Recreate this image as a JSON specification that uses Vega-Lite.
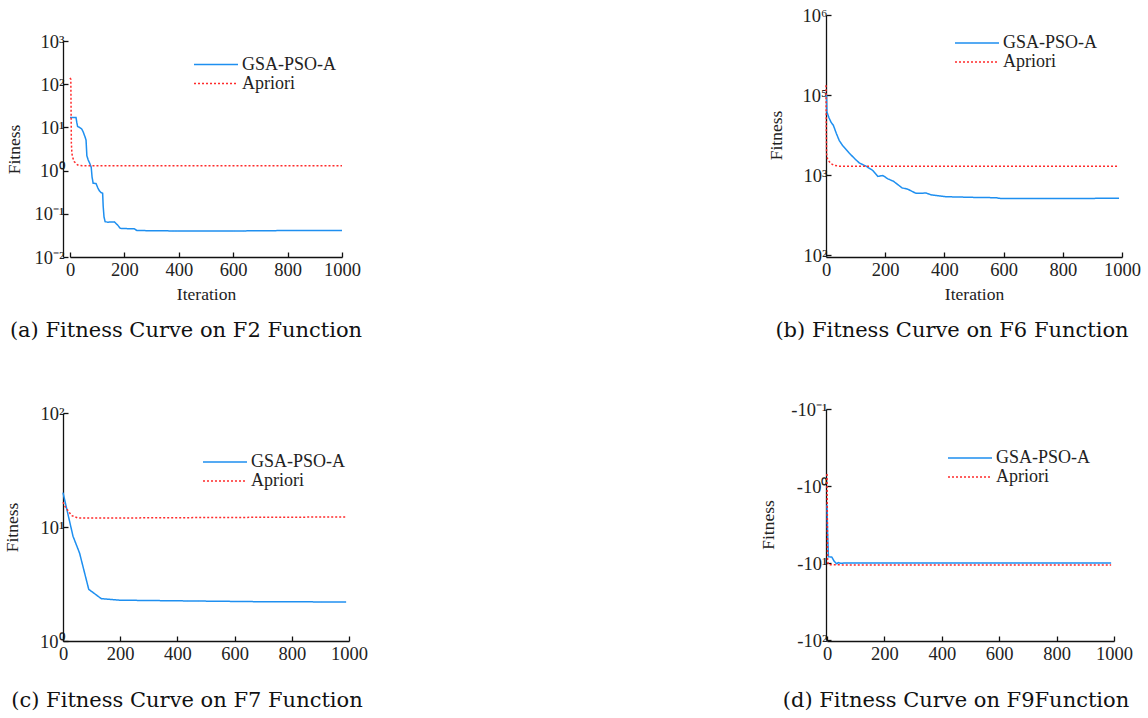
{
  "$schema": "https://vega.github.io/schema/vega-lite/v6.json",
  "padding": {"left": 3, "top": 6, "right": 5, "bottom": 5},
  "background": "white",
  "datasets": {
    "f2": [
      {"iter": 0, "fitness": 17, "series": "GSA-PSO-A"},
      {"iter": 22, "fitness": 17, "series": "GSA-PSO-A"},
      {"iter": 25, "fitness": 13, "series": "GSA-PSO-A"},
      {"iter": 28, "fitness": 10.5, "series": "GSA-PSO-A"},
      {"iter": 35, "fitness": 10, "series": "GSA-PSO-A"},
      {"iter": 43, "fitness": 9.2, "series": "GSA-PSO-A"},
      {"iter": 48, "fitness": 8, "series": "GSA-PSO-A"},
      {"iter": 55, "fitness": 6.1, "series": "GSA-PSO-A"},
      {"iter": 59, "fitness": 5.1, "series": "GSA-PSO-A"},
      {"iter": 62, "fitness": 2.2, "series": "GSA-PSO-A"},
      {"iter": 67, "fitness": 1.76, "series": "GSA-PSO-A"},
      {"iter": 72, "fitness": 1.5, "series": "GSA-PSO-A"},
      {"iter": 78, "fitness": 1.2, "series": "GSA-PSO-A"},
      {"iter": 81, "fitness": 0.72, "series": "GSA-PSO-A"},
      {"iter": 85, "fitness": 0.51, "series": "GSA-PSO-A"},
      {"iter": 96, "fitness": 0.5, "series": "GSA-PSO-A"},
      {"iter": 102, "fitness": 0.4, "series": "GSA-PSO-A"},
      {"iter": 108, "fitness": 0.34, "series": "GSA-PSO-A"},
      {"iter": 114, "fitness": 0.31, "series": "GSA-PSO-A"},
      {"iter": 120, "fitness": 0.3, "series": "GSA-PSO-A"},
      {"iter": 122, "fitness": 0.15, "series": "GSA-PSO-A"},
      {"iter": 125, "fitness": 0.085, "series": "GSA-PSO-A"},
      {"iter": 129, "fitness": 0.066, "series": "GSA-PSO-A"},
      {"iter": 138, "fitness": 0.064, "series": "GSA-PSO-A"},
      {"iter": 163, "fitness": 0.065, "series": "GSA-PSO-A"},
      {"iter": 175, "fitness": 0.055, "series": "GSA-PSO-A"},
      {"iter": 185, "fitness": 0.046, "series": "GSA-PSO-A"},
      {"iter": 224, "fitness": 0.045, "series": "GSA-PSO-A"},
      {"iter": 236, "fitness": 0.045, "series": "GSA-PSO-A"},
      {"iter": 246, "fitness": 0.041, "series": "GSA-PSO-A"},
      {"iter": 400, "fitness": 0.04, "series": "GSA-PSO-A"},
      {"iter": 600, "fitness": 0.04, "series": "GSA-PSO-A"},
      {"iter": 800, "fitness": 0.041, "series": "GSA-PSO-A"},
      {"iter": 1000, "fitness": 0.041, "series": "GSA-PSO-A"},
      {"iter": 0, "fitness": 140, "series": "Apriori"},
      {"iter": 3, "fitness": 130, "series": "Apriori"},
      {"iter": 4, "fitness": 25, "series": "Apriori"},
      {"iter": 5, "fitness": 4.3, "series": "Apriori"},
      {"iter": 7, "fitness": 2.5, "series": "Apriori"},
      {"iter": 10, "fitness": 2.0, "series": "Apriori"},
      {"iter": 16, "fitness": 1.6, "series": "Apriori"},
      {"iter": 28, "fitness": 1.35, "series": "Apriori"},
      {"iter": 45, "fitness": 1.3, "series": "Apriori"},
      {"iter": 200, "fitness": 1.3, "series": "Apriori"},
      {"iter": 600, "fitness": 1.3, "series": "Apriori"},
      {"iter": 1000, "fitness": 1.3, "series": "Apriori"}
    ],
    "f6": [
      {"iter": 0, "fitness": 10300, "series": "GSA-PSO-A"},
      {"iter": 2, "fitness": 9800, "series": "GSA-PSO-A"},
      {"iter": 3, "fitness": 6150, "series": "GSA-PSO-A"},
      {"iter": 10, "fitness": 5200, "series": "GSA-PSO-A"},
      {"iter": 17, "fitness": 4570, "series": "GSA-PSO-A"},
      {"iter": 25, "fitness": 4170, "series": "GSA-PSO-A"},
      {"iter": 35, "fitness": 3300, "series": "GSA-PSO-A"},
      {"iter": 45, "fitness": 2690, "series": "GSA-PSO-A"},
      {"iter": 56, "fitness": 2340, "series": "GSA-PSO-A"},
      {"iter": 79, "fitness": 1870, "series": "GSA-PSO-A"},
      {"iter": 100, "fitness": 1560, "series": "GSA-PSO-A"},
      {"iter": 113, "fitness": 1410, "series": "GSA-PSO-A"},
      {"iter": 135, "fitness": 1290, "series": "GSA-PSO-A"},
      {"iter": 158, "fitness": 1140, "series": "GSA-PSO-A"},
      {"iter": 175, "fitness": 960, "series": "GSA-PSO-A"},
      {"iter": 192, "fitness": 985, "series": "GSA-PSO-A"},
      {"iter": 209, "fitness": 895, "series": "GSA-PSO-A"},
      {"iter": 228, "fitness": 835, "series": "GSA-PSO-A"},
      {"iter": 257, "fitness": 690, "series": "GSA-PSO-A"},
      {"iter": 276, "fitness": 665, "series": "GSA-PSO-A"},
      {"iter": 304, "fitness": 590, "series": "GSA-PSO-A"},
      {"iter": 338, "fitness": 595, "series": "GSA-PSO-A"},
      {"iter": 355, "fitness": 565, "series": "GSA-PSO-A"},
      {"iter": 405, "fitness": 535, "series": "GSA-PSO-A"},
      {"iter": 500, "fitness": 525, "series": "GSA-PSO-A"},
      {"iter": 574, "fitness": 520, "series": "GSA-PSO-A"},
      {"iter": 591, "fitness": 507, "series": "GSA-PSO-A"},
      {"iter": 700, "fitness": 507, "series": "GSA-PSO-A"},
      {"iter": 800, "fitness": 508, "series": "GSA-PSO-A"},
      {"iter": 990, "fitness": 512, "series": "GSA-PSO-A"},
      {"iter": 0, "fitness": 13200, "series": "Apriori"},
      {"iter": 1, "fitness": 4000, "series": "Apriori"},
      {"iter": 2, "fitness": 1850, "series": "Apriori"},
      {"iter": 5, "fitness": 1600, "series": "Apriori"},
      {"iter": 9, "fitness": 1500, "series": "Apriori"},
      {"iter": 18, "fitness": 1380, "series": "Apriori"},
      {"iter": 28, "fitness": 1320, "series": "Apriori"},
      {"iter": 45, "fitness": 1290, "series": "Apriori"},
      {"iter": 500, "fitness": 1290, "series": "Apriori"},
      {"iter": 990, "fitness": 1290, "series": "Apriori"}
    ],
    "f7": [
      {"iter": 0, "fitness": 20, "series": "GSA-PSO-A"},
      {"iter": 35, "fitness": 8.3, "series": "GSA-PSO-A"},
      {"iter": 58, "fitness": 5.9, "series": "GSA-PSO-A"},
      {"iter": 90, "fitness": 2.84, "series": "GSA-PSO-A"},
      {"iter": 134, "fitness": 2.35, "series": "GSA-PSO-A"},
      {"iter": 200, "fitness": 2.28, "series": "GSA-PSO-A"},
      {"iter": 484, "fitness": 2.24, "series": "GSA-PSO-A"},
      {"iter": 700, "fitness": 2.21, "series": "GSA-PSO-A"},
      {"iter": 990, "fitness": 2.2, "series": "GSA-PSO-A"},
      {"iter": 0, "fitness": 16.5, "series": "Apriori"},
      {"iter": 8, "fitness": 15, "series": "Apriori"},
      {"iter": 17, "fitness": 14, "series": "Apriori"},
      {"iter": 30, "fitness": 12.6, "series": "Apriori"},
      {"iter": 52, "fitness": 12.0, "series": "Apriori"},
      {"iter": 200, "fitness": 12.0, "series": "Apriori"},
      {"iter": 500, "fitness": 12.1, "series": "Apriori"},
      {"iter": 990, "fitness": 12.25, "series": "Apriori"}
    ],
    "f9": [
      {"iter": 0, "fitness": -1.75, "series": "GSA-PSO-A"},
      {"iter": 2, "fitness": -4, "series": "GSA-PSO-A"},
      {"iter": 5, "fitness": -8.3, "series": "GSA-PSO-A"},
      {"iter": 17, "fitness": -8.4, "series": "GSA-PSO-A"},
      {"iter": 25, "fitness": -9.5, "series": "GSA-PSO-A"},
      {"iter": 33, "fitness": -10.2, "series": "GSA-PSO-A"},
      {"iter": 40, "fitness": -9.9, "series": "GSA-PSO-A"},
      {"iter": 48, "fitness": -10.1, "series": "GSA-PSO-A"},
      {"iter": 60, "fitness": -10.0, "series": "GSA-PSO-A"},
      {"iter": 500, "fitness": -10.0, "series": "GSA-PSO-A"},
      {"iter": 990, "fitness": -10.0, "series": "GSA-PSO-A"},
      {"iter": 0, "fitness": -0.7, "series": "Apriori"},
      {"iter": 1, "fitness": -2, "series": "Apriori"},
      {"iter": 2, "fitness": -9.5, "series": "Apriori"},
      {"iter": 5, "fitness": -10.5, "series": "Apriori"},
      {"iter": 60, "fitness": -10.6, "series": "Apriori"},
      {"iter": 990, "fitness": -10.6, "series": "Apriori"}
    ]
  },
  "columns": 2,
  "align": "each",
  "bounds": "flush",
  "spacing": {"row": 152, "column": 477},
  "resolve": {"scale": {"color": "independent", "strokeDash": "independent"}},
  "concat": [
    {
      "width": 286, "height": 242,
      "data": {"name": "f2"},
      "title": {"text": "(a) Fitness Curve on F2 Function", "dx": -20, "offset": 17},
      "mark": {"type": "line", "strokeWidth": 1.5, "clip": false},
      "encoding": {
        "x": {"field": "iter", "type": "quantitative", "scale": {"domain": [0, 1000], "range": [7, 279], "nice": false},
              "axis": {"values": [0, 200, 400, 600, 800, 1000], "title": "Iteration", "format": "d"}},
        "y": {"field": "fitness", "type": "quantitative", "scale": {"type": "log", "domain": [0.01, 1000], "range": [242, 26], "nice": false},
              "axis": {"values": [0.01, 0.1, 1, 10, 100, 1000], "title": "Fitness", "titlePadding": 10,
                       "labelExpr": "['10⁻²','10⁻¹','10⁰','10¹','10²','10³'][round(log(datum.value)/LN10)+2]"}},
        "color": {"field": "series", "type": "nominal", "scale": {"domain": ["GSA-PSO-A", "Apriori"], "range": ["#1e8ff0", "#ff2b2b"]},
                  "legend": {"legendX": 144, "legendY": 40.5}},
        "strokeDash": {"field": "series", "type": "nominal", "scale": {"domain": ["GSA-PSO-A", "Apriori"], "range": [[1, 0], [2, 2]]},
                       "legend": {"legendX": 144, "legendY": 40.5}}
      }
    },
    {
      "width": 296, "height": 242,
      "data": {"name": "f6"},
      "title": {"text": "(b) Fitness Curve on F6 Function", "dx": -22, "offset": 17},
      "mark": {"type": "line", "strokeWidth": 1.5, "clip": false},
      "encoding": {
        "x": {"field": "iter", "type": "quantitative", "scale": {"domain": [0, 1000], "range": [0, 296], "nice": false},
              "axis": {"values": [0, 200, 400, 600, 800, 1000], "title": "Iteration", "format": "d"}},
        "y": {"field": "fitness", "type": "quantitative", "scale": {"type": "log", "domain": [100, 100000], "range": [240, 0], "nice": false},
              "axis": {"values": [100, 1000, 10000, 100000], "title": "Fitness", "titlePadding": 17,
                       "labelExpr": "['10²','10³','10⁵','10⁶'][round(log(datum.value)/LN10)-2]"}},
        "color": {"field": "series", "type": "nominal", "scale": {"domain": ["GSA-PSO-A", "Apriori"], "range": ["#1e8ff0", "#ff2b2b"]},
                  "legend": {"legendX": 142, "legendY": 19}},
        "strokeDash": {"field": "series", "type": "nominal", "scale": {"domain": ["GSA-PSO-A", "Apriori"], "range": [[1, 0], [2, 2]]},
                       "legend": {"legendX": 142, "legendY": 19}}
      }
    },
    {
      "width": 286, "height": 232,
      "data": {"name": "f7"},
      "title": {"text": "(c) Fitness Curve on F7 Function", "dx": -19, "offset": 27},
      "mark": {"type": "line", "strokeWidth": 1.5, "clip": false},
      "encoding": {
        "x": {"field": "iter", "type": "quantitative", "scale": {"domain": [0, 1000], "range": [0, 286], "nice": false},
              "axis": {"values": [0, 200, 400, 600, 800, 1000], "title": null, "format": "d"}},
        "y": {"field": "fitness", "type": "quantitative", "scale": {"type": "log", "domain": [1, 100], "range": [232, 4], "nice": false},
              "axis": {"values": [1, 10, 100], "title": "Fitness", "titlePadding": 18.5,
                       "labelExpr": "['10⁰','10¹','10²'][round(log(datum.value)/LN10)]"}},
        "color": {"field": "series", "type": "nominal", "scale": {"domain": ["GSA-PSO-A", "Apriori"], "range": ["#1e8ff0", "#ff2b2b"]},
                  "legend": {"legendX": 153, "legendY": 44}},
        "strokeDash": {"field": "series", "type": "nominal", "scale": {"domain": ["GSA-PSO-A", "Apriori"], "range": [[1, 0], [2, 2]]},
                       "legend": {"legendX": 153, "legendY": 44}}
      }
    },
    {
      "width": 296, "height": 232,
      "data": {"name": "f9"},
      "title": {"text": "(d) Fitness Curve on F9Function", "dx": -18, "offset": 27},
      "mark": {"type": "line", "strokeWidth": 1.5, "clip": false, "invalid": "show"},
      "encoding": {
        "x": {"field": "iter", "type": "quantitative", "scale": {"domain": [0, 1000], "range": [1, 288], "nice": false},
              "axis": {"values": [0, 200, 400, 600, 800, 1000], "title": null, "format": "d"}},
        "y": {"field": "fitness", "type": "quantitative", "scale": {"type": "log", "domain": [-100, -0.1], "range": [231, 0], "nice": false},
              "axis": {"values": [-100, -10, -1, -0.1], "title": "Fitness", "titlePadding": 13,
                       "labelExpr": "['-10⁻¹','-10⁰','-10¹','-10²'][round(log(-datum.value)/LN10)+1]"}},
        "color": {"field": "series", "type": "nominal", "scale": {"domain": ["GSA-PSO-A", "Apriori"], "range": ["#1e8ff0", "#ff2b2b"]},
                  "legend": {"legendX": 135, "legendY": 40}},
        "strokeDash": {"field": "series", "type": "nominal", "scale": {"domain": ["GSA-PSO-A", "Apriori"], "range": [[1, 0], [2, 2]]},
                       "legend": {"legendX": 135, "legendY": 40}}
      }
    }
  ],
  "config": {
    "view": {"stroke": null},
    "axis": {
      "grid": false,
      "domainColor": "#111",
      "domainWidth": 1.3,
      "tickColor": "#111",
      "tickWidth": 1.3,
      "tickSize": -5,
      "labelPadding": 4,
      "labelFlush": false,
      "labelOverlap": false,
      "labelFont": "Liberation Serif",
      "labelFontSize": 18.5,
      "labelColor": "#222",
      "titleFont": "Liberation Serif",
      "titleFontSize": 17.5,
      "titleFontWeight": "normal",
      "titleColor": "#222",
      "titlePadding": 8
    },
    "axisX": {"labelPadding": 8, "titlePadding": 7},
    "legend": {
      "orient": "none",
      "title": null,
      "symbolType": "M-4,0H4",
      "symbolSize": 121,
      "symbolStrokeWidth": 1.5,
      "labelFont": "Liberation Serif",
      "labelFontSize": 18,
      "labelColor": "#222",
      "labelOffset": 17,
      "rowPadding": 1,
      "padding": 0
    },
    "title": {
      "orient": "bottom",
      "anchor": "middle",
      "frame": "group",
      "font": "DejaVu Serif",
      "fontSize": 21,
      "fontWeight": "normal",
      "color": "#111"
    }
  }
}
